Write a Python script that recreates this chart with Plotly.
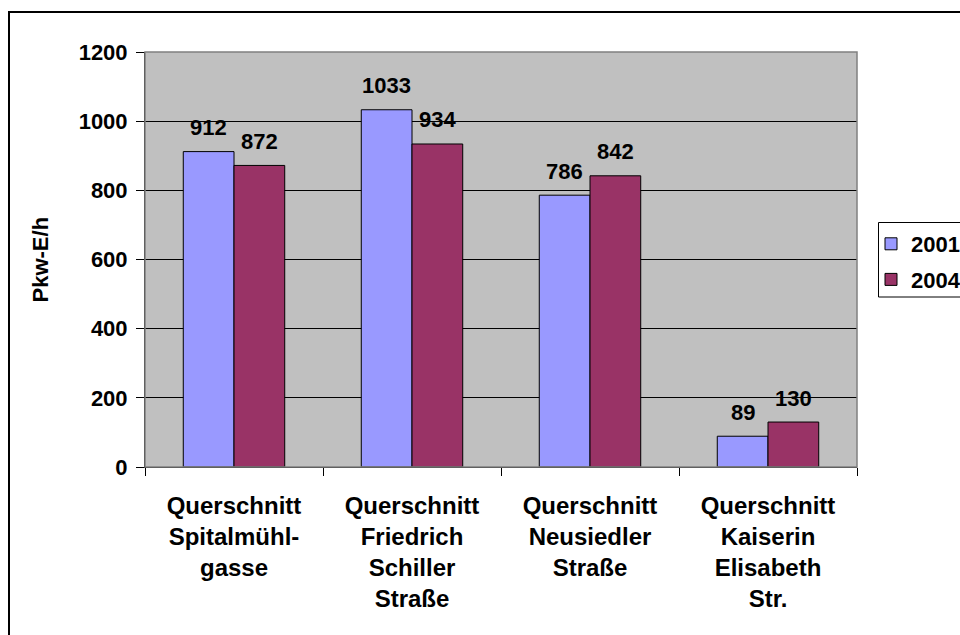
import plotly.graph_objects as go

# Traffic volumes per cross-section (Pkw-E/h)
categories = [
    "Querschnitt<br>Spitalmühl-<br>gasse",
    "Querschnitt<br>Friedrich<br>Schiller<br>Straße",
    "Querschnitt<br>Neusiedler<br>Straße",
    "Querschnitt<br>Kaiserin<br>Elisabeth<br>Str.",
]
series_names = ["2001", "2004"]
values_2001 = [912, 1033, 786, 89]
values_2004 = [872, 934, 842, 130]
y_tick_values = [0, 200, 400, 600, 800, 1000, 1200]

FONT = "Liberation Sans, Arial, sans-serif"
colors = ["#9999FF", "#993366"]

W, H = 960, 635
L, R, T, B = 145, 103, 52, 168
plot_w = W - L - R
plot_h = H - T - B
bargap = 0.43
bar_px = plot_w / len(categories) * (1 - bargap) / 2

fig = go.Figure()
for name, vals, col in zip(series_names, [values_2001, values_2004], colors):
    fig.add_trace(go.Bar(
        x=categories, y=vals, name=name, legendgroup=name,
        marker=dict(color=col, line=dict(color="black", width=1)),
    ))

# value labels above each bar
annotations = []
for k, vals in enumerate([values_2001, values_2004]):
    shift = (k - 0.5) * bar_px
    for cat, v in zip(categories, vals):
        annotations.append(dict(
            x=cat, y=v, xref="x", yref="y", text=str(v), showarrow=False,
            xshift=shift, yshift=24, yanchor="middle",
            font=dict(family=FONT, size=22, color="black", weight="bold"),
        ))

# y-axis title
annotations.append(dict(
    x=(40 - L) / plot_w, y=0.5, xref="paper", yref="paper", text="Pkw-E/h",
    textangle=-90, showarrow=False, xanchor="center", yanchor="middle",
    font=dict(family=FONT, size=22, color="black", weight="bold"),
))

def px_x(v):
    return (v - L) / plot_w

def px_y(v):
    return 1 - (v - T) / plot_h

shapes = [
    # plot-area frame
    dict(type="rect", xref="paper", yref="paper", x0=0, y0=0, x1=1, y1=1,
         line=dict(color="#808080", width=1.5), layer="above"),
    # outer chart frame
    dict(type="rect", xref="paper", yref="paper",
         x0=px_x(9), y0=-0.6, x1=1.3, y1=px_y(12),
         line=dict(color="black", width=2)),
    # legend frame
    dict(type="rect", xref="paper", yref="paper",
         x0=px_x(878.5), y0=px_y(297), x1=px_x(990), y1=px_y(222.5),
         line=dict(color="black", width=1)),
]

fig.update_layout(
    width=W, height=H,
    margin=dict(l=L, r=R, t=T, b=B, autoexpand=False),
    paper_bgcolor="white", plot_bgcolor="#C0C0C0",
    barmode="group", bargap=bargap, bargroupgap=0,
    font=dict(family=FONT, color="black"),
    showlegend=True,
    legend=dict(
        x=px_x(871), y=px_y(223),
        xanchor="left", yanchor="top",
        bgcolor="rgba(0,0,0,0)", borderwidth=0,
        font=dict(family=FONT, size=22, color="black", weight="bold"),
        tracegroupgap=4, itemwidth=30,
    ),
    annotations=annotations,
    shapes=shapes,
    xaxis=dict(
        type="category", showgrid=False, tickson="boundaries",
        ticks="outside", ticklen=8, tickcolor="black",
        showline=True, linecolor="black", linewidth=1,
        ticklabelstandoff=17,
        tickfont=dict(family=FONT, size=24, color="black", weight="bold"),
        automargin=False,
    ),
    yaxis=dict(
        range=[0, 1200], tickvals=y_tick_values,
        ticks="outside", ticklen=8, tickcolor="black",
        showline=True, linecolor="black", linewidth=1,
        showgrid=True, gridcolor="#000000", gridwidth=1,
        zeroline=False, ticklabelstandoff=4,
        tickfont=dict(family=FONT, size=22, color="black", weight="bold"),
        automargin=False,
    ),
)

fig.write_html("out.html")
